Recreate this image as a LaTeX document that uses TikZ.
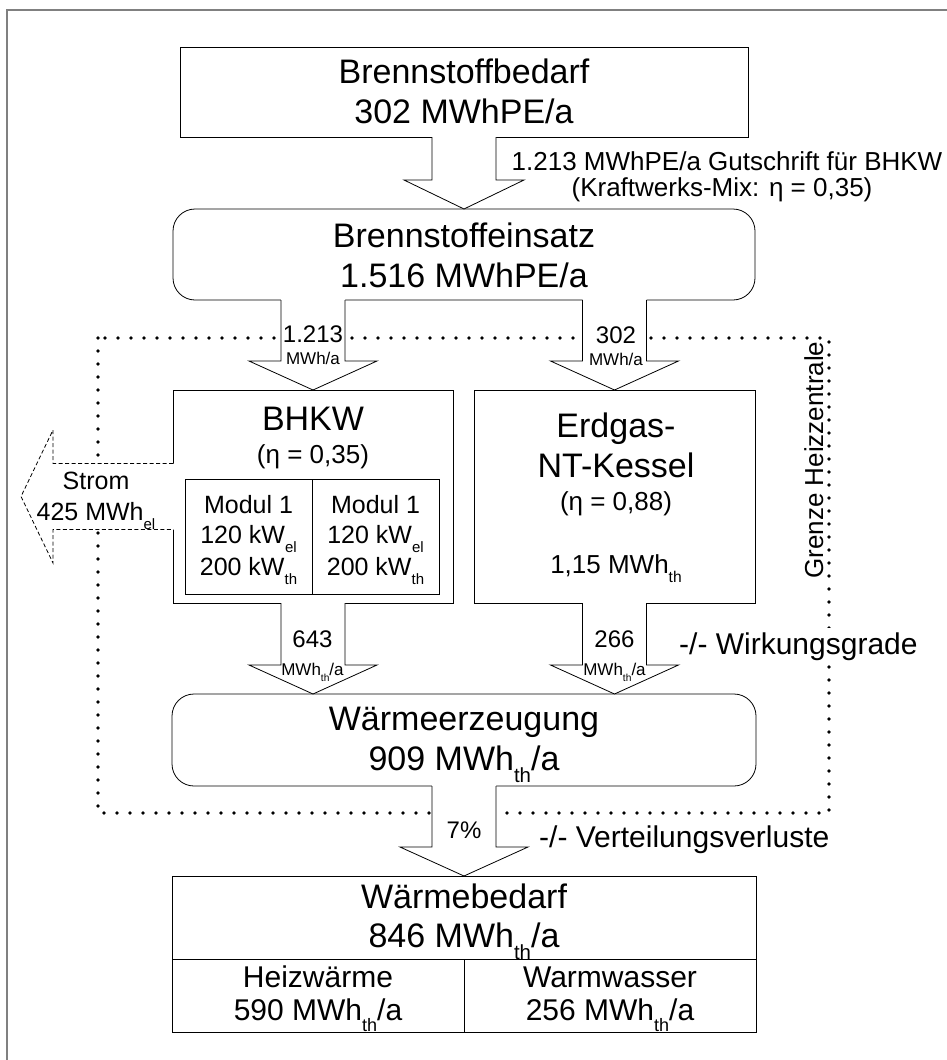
\documentclass[tikz,border=0pt]{standalone}
\usepackage{fontspec}
\setmainfont{Liberation Sans}
\usetikzlibrary{calc}

% lowered, reduced index such as MWh_th
\newcommand\lowsub[1]{\raisebox{-0.38em}{\scalebox{0.6}{#1}}}

% block arrow pointing down: #1 node giving x, #2 source, #3 target, #4 half width of head
\newcommand\flowdown[4]{%
  \fill[white] let \p1=(#1.center), \p2=(#2.south), \p3=(#3.north) in
    (\x1-32pt,\y2+1.2pt) -- (\x1-32pt,\y3+29pt) -- (\x1-#4,\y3+29pt) -- (\x1,\y3)
    -- (\x1+#4,\y3+29pt) -- (\x1+32pt,\y3+29pt) -- (\x1+32pt,\y2+1.2pt) -- cycle;
  \draw[flowline] let \p1=(#1.center), \p2=(#2.south), \p3=(#3.north) in
    (\x1-32pt,\y2) -- (\x1-32pt,\y3+29pt) -- (\x1-#4,\y3+29pt) -- (\x1,\y3)
    -- (\x1+#4,\y3+29pt) -- (\x1+32pt,\y3+29pt) -- (\x1+32pt,\y2);
}

\begin{document}
\begin{tikzpicture}[x=1pt,y=-1pt,
  box/.style={draw=black, line width=0.8pt, inner sep=0pt, outer sep=0pt},
  rbox/.style={box, rounded corners=22pt},
  flowline/.style={draw=black, line width=0.8pt},
  limitline/.style={draw=black, line width=3.6pt, dash pattern=on 0pt off 13pt, line cap=round},
  outerframe/.style={draw=black!50, line width=2pt},
  ftitle/.style={font=\fontsize{34}{40}\selectfont, anchor=base, inner sep=0pt},
  fsub/.style={font=\fontsize{26}{30}\selectfont, anchor=base, inner sep=0pt},
  fmod/.style={font=\fontsize{25}{30}\selectfont, anchor=base, inner sep=0pt},
  fnote/.style={font=\fontsize{30}{34}\selectfont, anchor=base, inner sep=0pt},
  fflow/.style={font=\fontsize{24}{28}\selectfont, anchor=base, inner sep=0pt},
  fsmall/.style={font=\fontsize{17}{20}\selectfont, anchor=base, inner sep=0pt},
]
\useasboundingbox (0,0) rectangle (947,1060);
\fill[white] (0,0) rectangle (947,1060);

% outer frame (only top and left edges are visible)
\draw[outerframe] (947,10) -- (7,10) -- (7,1060);

% boundary of the heating plant
\draw[limitline] (98,338) rectangle (829,813);

% boxes
\node[box, minimum width=568pt, minimum height=90pt] (bedarf) at (464,92) {};
\node[rbox, minimum width=582pt, minimum height=91pt] (einsatz) at (464,254.5) {};
\node[box, minimum width=280pt, minimum height=213pt] (bhkw) at (313,496.5) {};
\node[box, minimum width=127pt, minimum height=115pt] (mod1) at (248.5,536.5) {};
\node[box, minimum width=127pt, minimum height=115pt] (mod2) at (375.5,536.5) {};
\node[box, minimum width=281pt, minimum height=213pt] (kessel) at (614.5,496.5) {};
\node[rbox, minimum width=584pt, minimum height=92pt] (erz) at (464,740) {};
\node[box, minimum width=584pt, minimum height=83pt] (wbed) at (464,917.5) {};
\node[box, minimum width=292pt, minimum height=73pt] (heiz) at (318,995.5) {};
\node[box, minimum width=292pt, minimum height=73pt] (warm) at (610,995.5) {};

% block arrows
\flowdown{bedarf}{bedarf}{einsatz}{60pt}
\flowdown{bhkw}{einsatz}{bhkw}{64pt}
\flowdown{kessel}{einsatz}{kessel}{64pt}
\flowdown{bhkw}{bhkw}{erz}{64pt}
\flowdown{kessel}{kessel}{erz}{64pt}
\flowdown{erz}{erz}{wbed}{64pt}

% electricity leaving the CHP unit
\fill[white] let \p1=(bhkw.west) in
  (\x1+1.2pt,\y1+33pt) -- (\x1-120pt,\y1+33pt) -- (\x1-120pt,\y1+66.5pt) -- (\x1-152pt,\y1)
  -- (\x1-120pt,\y1-66.5pt) -- (\x1-120pt,\y1-33pt) -- (\x1+1.2pt,\y1-33pt) -- cycle;
\draw[flowline, dash pattern=on 4pt off 2.5pt] let \p1=(bhkw.west) in
  (\x1,\y1+33pt) -- (\x1-120pt,\y1+33pt) -- (\x1-120pt,\y1+66.5pt) -- (\x1-152pt,\y1)
  -- (\x1-120pt,\y1-66.5pt) -- (\x1-120pt,\y1-33pt) -- (\x1,\y1-33pt);

% texts
\node[ftitle] (bedarf-a) at (464,83) {Brennstoffbedarf};
\node[ftitle] (bedarf-b) at (464,123) {302 MWhPE/a};
\node[fsub] (credit-a) at (727,170) {1.213 MWhPE/a Gutschrift für BHKW};
\node[fsub] (credit-b) at (722,196) {(Kraftwerks-Mix: η = 0,35)};
\node[ftitle] (einsatz-a) at (464,247) {Brennstoffeinsatz};
\node[ftitle] (einsatz-b) at (464,287) {1.516 MWhPE/a};

\node[fflow] (in1-a) at (313,342) {1.213};
\node[fsmall] (in1-b) at (313,364) {MWh/a};
\node[fflow] (in2-a) at (616,343) {302};
\node[fsmall] (in2-b) at (616,365) {MWh/a};

\node[ftitle] (bhkw-a) at (313,430) {BHKW};
\node[fsub] (bhkw-b) at (313,463) {(η = 0,35)};
\node[fmod] (mod1-a) at (248.5,513) {Modul 1};
\node[fmod] (mod1-b) at (248.5,543) {120 kW\lowsub{el}};
\node[fmod] (mod1-c) at (248.5,575) {200 kW\lowsub{th}};
\node[fmod] (mod2-a) at (375.5,513) {Modul 1};
\node[fmod] (mod2-b) at (375.5,543) {120 kW\lowsub{el}};
\node[fmod] (mod2-c) at (375.5,575) {200 kW\lowsub{th}};

\node[fmod] (strom-a) at (96,489) {Strom};
\node[fmod] (strom-b) at (96,520) {425 MWh\lowsub{el}};

\node[ftitle] (kessel-a) at (616,437) {Erdgas-};
\node[ftitle] (kessel-b) at (616,477) {NT-Kessel};
\node[fsub] (kessel-c) at (616,510) {(η = 0,88)};
\node[fsub] (kessel-d) at (616,573) {1,15 MWh\lowsub{th}};

\node[fsub, rotate=90] (grenze) at (823,460) {Grenze Heizzentrale};

\node[fflow] (out1-a) at (312.5,647) {643};
\node[fsmall] (out1-b) at (312.5,675) {MWh\lowsub{th}/a};
\node[fflow] (out2-a) at (614.5,647) {266};
\node[fsmall] (out2-b) at (614.5,675) {MWh\lowsub{th}/a};
\node[fnote, anchor=base west, fill=white, inner xsep=3pt, inner ysep=4pt] (wirk) at (676,654) {-/- Wirkungsgrade};

\node[ftitle] (erz-a) at (464,730) {Wärmeerzeugung};
\node[ftitle] (erz-b) at (464,770) {909 MWh\lowsub{th}/a};

\node[fflow] (loss) at (464,838) {7\%};
\node[fnote, anchor=base west] (verteil) at (539,847) {-/- Verteilungsverluste};

\node[ftitle] (wbed-a) at (464,908) {Wärmebedarf};
\node[ftitle] (wbed-b) at (464,947) {846 MWh\lowsub{th}/a};
\node[fnote] (heiz-a) at (318,987) {Heizwärme};
\node[fnote] (heiz-b) at (318,1020) {590 MWh\lowsub{th}/a};
\node[fnote] (warm-a) at (610,987) {Warmwasser};
\node[fnote] (warm-b) at (610,1020) {256 MWh\lowsub{th}/a};
\end{tikzpicture}
\end{document}
